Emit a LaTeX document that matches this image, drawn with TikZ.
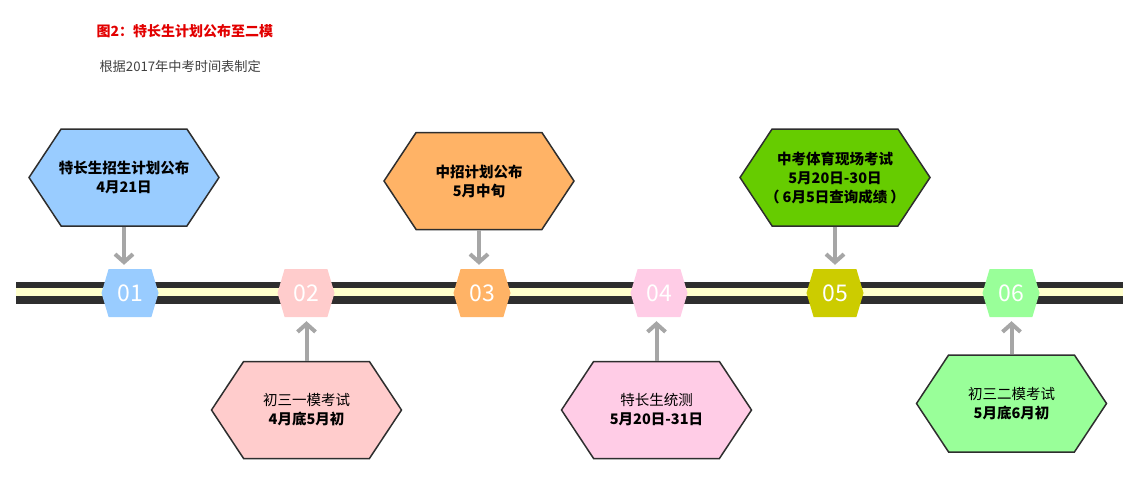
\documentclass[tikz,border=0pt]{standalone}
\usepackage{fontspec}
\usepackage{xcolor}
\usepackage{tikz}
\usetikzlibrary{shapes.symbols,arrows.meta}
\setmainfont{Noto Sans CJK SC}
\definecolor{roadgray}{RGB}{46, 46, 46}
\definecolor{roadcream}{RGB}{255, 255, 204}
\definecolor{arrowgray}{RGB}{166, 166, 166}
\definecolor{titlered}{RGB}{226, 0, 0}
\definecolor{subgray}{RGB}{64, 64, 64}
\definecolor{cblue}{RGB}{153, 204, 255}
\definecolor{cpink}{RGB}{255, 204, 204}
\definecolor{corange}{RGB}{255, 179, 102}
\definecolor{crose}{RGB}{255, 204, 230}
\definecolor{cgreen}{RGB}{102, 204, 0}
\definecolor{colive}{RGB}{204, 204, 0}
\definecolor{cmint}{RGB}{153, 255, 153}

\begin{document}
\begin{tikzpicture}[x=1pt, y=-1pt,
  event/.style={shape=signal, signal to=east and west, signal pointer angle=113,
                draw=roadgray, line width=1.5pt, minimum width=190pt, minimum height=97pt,
                inner xsep=-10pt, inner ysep=0pt, align=center,
                font=\fontsize{14.5}{19}\selectfont, text=black},
  badge/.style={shape=signal, signal to=east and west, signal pointer angle=147,
                minimum width=57pt, minimum height=48pt, inner sep=0pt,
                text=white, font=\fontsize{23}{23}\selectfont},
  arrow/.style={-{Straight Barb[length=8pt, width=18pt]}, line width=4pt, draw=arrowgray,
                shorten >=4pt}
]
  \useasboundingbox (0, 0) rectangle (1139, 477);

  % Title
  \node[anchor=west, text=titlered, font=\fontsize{14}{14}\selectfont\bfseries] (title) at (93, 31)
    {图2：特长生计划公布至二模};
  \node[anchor=west, text=subgray, font=\fontsize{13.2}{14}\selectfont] (subtitle) at (96, 66)
    {根据2017年中考时间表制定};

  % Road
  \fill[roadgray] (16, 282) rectangle (1123, 304);
  \fill[roadcream] (16, 288) rectangle (1123, 296);

  % Badges on the road
  \node[badge, fill=cblue] (b1) at (130, 293) {01};
  \node[badge, fill=cpink] (b2) at (306, 293) {02};
  \node[badge, fill=corange] (b3) at (482, 293) {03};
  \node[badge, fill=crose] (b4) at (659, 293) {04};
  \node[badge, fill=colive] (b5) at (835, 293) {05};
  \node[badge, fill=cmint] (b6) at (1011, 293) {06};

  % Events above
  \node[event, fill=cblue] (e1) at (124, 177.5)
    {\bfseries 特长生招生计划公布\\\bfseries 4月21日};
  \node[event, fill=corange] (e3) at (479, 181)
    {\bfseries 中招计划公布\\\bfseries 5月中旬};
  \node[event, fill=cgreen] (e5) at (835, 177.5)
    {\bfseries 中考体育现场考试\\\bfseries 5月20日-30日\\\bfseries （\hspace{3pt}6月5日查询成绩\hspace{3pt}）};

  % Events below
  \node[event, fill=cpink] (e2) at (306.5, 410)
    {初三一模考试\\\bfseries 4月底5月初};
  \node[event, fill=crose] (e4) at (656.5, 410)
    {特长生统测\\\bfseries 5月20日-31日};
  \node[event, fill=cmint] (e6) at (1011.5, 403.5)
    {初三二模考试\\\bfseries 5月底6月初};

  % Arrows
  \draw[arrow] (e1.south) -- (e1.south |- b1.north);
  \draw[arrow] (e3.south) -- (e3.south |- b3.north);
  \draw[arrow] (e5.south) -- (e5.south |- b5.north);
  \draw[arrow] (e2.north) -- (e2.north |- b2.south);
  \draw[arrow] (e4.north) -- (e4.north |- b4.south);
  \draw[arrow] (e6.north) -- (e6.north |- b6.south);

\end{tikzpicture}
\end{document}
